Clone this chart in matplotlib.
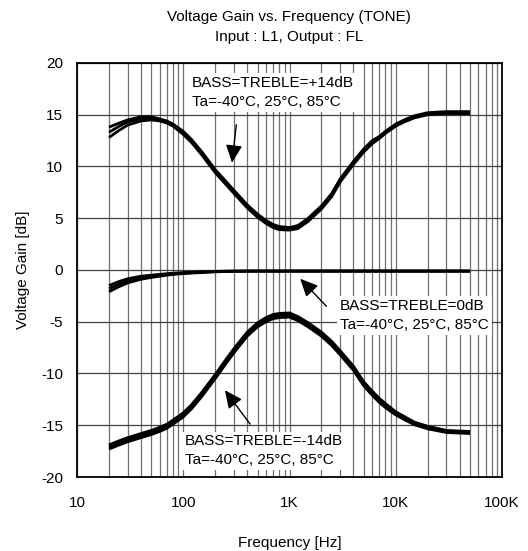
import numpy as np
import matplotlib.pyplot as plt
from matplotlib.ticker import FixedLocator, LogLocator, NullFormatter

plt.rcParams['font.family'] = ['Liberation Sans', 'DejaVu Sans']
plt.rcParams['font.size'] = 11
plt.rcParams['axes.unicode_minus'] = False

# frequency points [Hz]
freq = [20, 25, 30, 40, 50, 60, 70, 80, 100, 120, 150, 200, 250, 300, 400, 500, 600, 700,
        800, 1000, 1200, 1500, 2000, 2500, 3000, 4000, 5000, 6000, 7000, 8000, 10000,
        12000, 15000, 20000, 30000, 50000]

# BASS=TREBLE=+14dB (three temperatures)
boost_a = [13.8, 14.2, 14.5, 14.8, 14.8, 14.6, 14.4, 14.1, 13.4, 12.6, 11.4, 9.7, 8.6, 7.7,
           6.3, 5.4, 4.8, 4.4, 4.2, 4.1, 4.3, 5.0, 6.2, 7.4, 8.8, 10.5, 11.7, 12.5, 12.9,
           13.4, 14.1, 14.5, 14.9, 15.2, 15.3, 15.3]
boost_b = [13.3, 13.9, 14.3, 14.6, 14.6, 14.5, 14.3, 14.0, 13.3, 12.5, 11.3, 9.6, 8.5, 7.6,
           6.2, 5.3, 4.7, 4.3, 4.1, 4.0, 4.2, 4.9, 6.1, 7.3, 8.7, 10.4, 11.6, 12.4, 12.8,
           13.3, 14.0, 14.4, 14.8, 15.1, 15.2, 15.2]
boost_c = [12.8, 13.5, 14.0, 14.4, 14.5, 14.4, 14.2, 13.9, 13.1, 12.3, 11.1, 9.4, 8.3, 7.4,
           6.0, 5.1, 4.5, 4.1, 3.9, 3.85, 4.0, 4.7, 5.9, 7.1, 8.5, 10.2, 11.4, 12.2, 12.7,
           13.2, 13.9, 14.3, 14.7, 15.0, 15.1, 15.1]

# BASS=TREBLE=0dB
flat_a = [-1.5, -1.1, -0.85, -0.6, -0.5, -0.42, -0.36, -0.31, -0.25, -0.21, -0.18, -0.13,
          -0.11, -0.1, -0.1, -0.1, -0.1, -0.1, -0.1, -0.1, -0.1, -0.1, -0.1, -0.1, -0.1,
          -0.1, -0.1, -0.1, -0.1, -0.1, -0.1, -0.1, -0.1, -0.1, -0.1, -0.1]
flat_b = [-1.8, -1.35, -1.05, -0.75, -0.6, -0.5, -0.42, -0.36, -0.3, -0.25, -0.2, -0.15,
          -0.13, -0.12, -0.1, -0.1, -0.1, -0.1, -0.1, -0.1, -0.1, -0.1, -0.1, -0.1, -0.1,
          -0.1, -0.1, -0.1, -0.1, -0.1, -0.1, -0.1, -0.1, -0.1, -0.1, -0.1]
flat_c = [-2.1, -1.6, -1.25, -0.9, -0.72, -0.6, -0.5, -0.43, -0.35, -0.3, -0.25, -0.18,
          -0.15, -0.14, -0.12, -0.12, -0.12, -0.12, -0.12, -0.12, -0.12, -0.12, -0.12,
          -0.12, -0.12, -0.12, -0.12, -0.12, -0.12, -0.12, -0.12, -0.12, -0.12, -0.12,
          -0.12, -0.12]

# BASS=TREBLE=-14dB
cut_a = [-16.9, -16.5, -16.2, -15.8, -15.5, -15.2, -14.9, -14.5, -13.8, -13.0, -11.8, -10.1,
         -8.7, -7.6, -6.0, -5.1, -4.6, -4.3, -4.2, -4.15, -4.5, -5.1, -6.0, -6.9, -7.8,
         -9.3, -10.8, -11.7, -12.4, -12.9, -13.7, -14.15, -14.7, -15.1, -15.5, -15.6]
cut_b = [-17.1, -16.7, -16.4, -16.0, -15.7, -15.4, -15.1, -14.7, -14.0, -13.2, -12.0, -10.3,
         -8.9, -7.8, -6.2, -5.3, -4.8, -4.5, -4.4, -4.35, -4.7, -5.3, -6.2, -7.1, -8.0,
         -9.5, -11.0, -11.9, -12.6, -13.1, -13.85, -14.3, -14.8, -15.2, -15.6, -15.7]
cut_c = [-17.3, -16.9, -16.6, -16.2, -15.9, -15.6, -15.3, -14.9, -14.2, -13.4, -12.2, -10.5,
         -9.1, -8.0, -6.4, -5.5, -5.0, -4.7, -4.6, -4.55, -4.9, -5.5, -6.4, -7.3, -8.2,
         -9.7, -11.2, -12.1, -12.8, -13.3, -14.0, -14.45, -14.95, -15.35, -15.7, -15.8]

xticks = [10, 100, 1000, 10000, 100000]
xtick_labels = ['10', '100', '1K', '10K', '100K']
yticks = [-20, -15, -10, -5, 0, 5, 10, 15, 20]

fig = plt.figure(figsize=(5.28, 5.51), dpi=100)
ax = fig.add_axes([0.1458, 0.1343, 0.805, 0.7514])

for series in [boost_a, boost_b, boost_c, flat_a, flat_b, flat_c, cut_a, cut_b, cut_c]:
    ax.plot(freq, series, color='black', lw=2.0, zorder=3, solid_capstyle='butt')

ax.set_xscale('log')
ax.set_xlim(10, 100000)
ax.set_ylim(-20, 20)
ax.xaxis.set_major_locator(FixedLocator(xticks))
ax.set_xticklabels(xtick_labels)
ax.xaxis.set_minor_locator(LogLocator(base=10, subs=np.arange(2, 10)))
ax.xaxis.set_minor_formatter(NullFormatter())
ax.set_yticks(yticks)

ax.grid(True, axis='x', which='both', color='#707070', lw=0.9)
ax.grid(True, axis='y', which='major', color='#404040', lw=0.9)
ax.set_axisbelow(True)

ax.tick_params(axis='both', which='both', length=0)
ax.tick_params(axis='x', pad=14)
ax.tick_params(axis='y', pad=10)
for sp in ax.spines.values():
    sp.set_linewidth(1.3)

ax.set_xlabel('Frequency [Hz]')
ax.set_ylabel('Voltage Gain [dB]')
ax.xaxis.set_label_coords(0.5, -0.1425)
ax.yaxis.set_label_coords(-0.111, 0.5)

fig.text(0.548, 0.969, 'Voltage Gain vs. Frequency (TONE)', ha='center', va='center')
fig.text(0.548, 0.933, 'Input : L1, Output : FL', ha='center', va='center')

box = dict(fc='white', ec='none', pad=2)
arrow = dict(arrowstyle='-|>,head_length=0.6,head_width=0.28', color='black',
             lw=1, mutation_scale=18)

ax.text(120, 17.16, 'BASS=TREBLE=+14dB\nTa=-40°C, 25°C, 85°C', ha='left', va='center',
        linespacing=1.45, bbox=box, zorder=4)
ax.annotate('', xy=(286, 10.1), xytext=(318, 14.3), arrowprops=arrow, zorder=5)

ax.text(2990, -4.38, 'BASS=TREBLE=0dB\nTa=-40°C, 25°C, 85°C', ha='left', va='center',
        linespacing=1.45, bbox=box, zorder=4)
ax.annotate('', xy=(1210, -0.65), xytext=(2320, -3.7), arrowprops=arrow, zorder=5)

ax.text(104, -17.47, 'BASS=TREBLE=-14dB\nTa=-40°C, 25°C, 85°C', ha='left', va='center',
        linespacing=1.45, bbox=box, zorder=4)
ax.annotate('', xy=(238, -11.4), xytext=(441, -15.1), arrowprops=arrow, zorder=5)

fig.savefig('out.png', dpi=100)
